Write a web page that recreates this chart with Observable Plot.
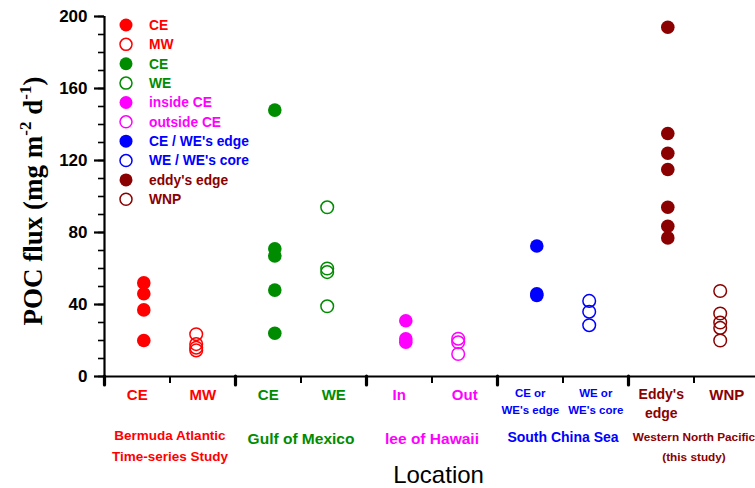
<!DOCTYPE html>
<html>
<head>
<meta charset="utf-8">
<script src="https://cdn.jsdelivr.net/npm/d3@7"></script>
<script src="https://cdn.jsdelivr.net/npm/@observablehq/plot@0.6"></script>
<style>
  html, body { margin: 0; padding: 0; background: #fff; }
  #chart svg { display: block; }
</style>
</head>
<body>
<div id="chart"></div>
<script>
// ---- Data ----
const regions = ["Bermuda Atlantic\nTime-series Study", "Gulf of Mexico", "lee of Hawaii", "South China Sea", "Western North Pacific\n(this study)"];
const regionColors = ["#ff0000", "#008c00", "#ff00ff", "#0000ff", "#8b0000"];
const subLabels = ["CE", "MW", "CE", "WE", "In", "Out", "CE or\nWE's edge", "WE or\nWE's core", "Eddy's\nedge", "WNP"];
const legendLabels = ["CE", "MW", "CE", "WE", "inside CE", "outside CE", "CE / WE's edge", "WE / WE's core", "eddy's edge", "WNP"];

const batsCE = [52, 46, 37, 20];
const batsMW = [23.5, 18, 16, 14.5];
const gomCE = [148, 71, 67, 48, 24];
const gomWE = [94, 60, 58, 39];
const hawaiiIn = [31, 21, 19];
const hawaiiOut = [21, 19, 12.5];
const scsEdge = [72.5, 46, 45];
const scsCore = [42, 36, 28.5];
const wnpEdge = [194, 135, 124, 115, 94, 83.5, 77];
const wnpOut = [47.5, 35, 30, 27, 20];

const series = [batsCE, batsMW, gomCE, gomWE, hawaiiIn, hawaiiOut, scsEdge, scsCore, wnpEdge, wnpOut];

// build table: series i -> group floor(i/2), filled when i even
const points = series.flatMap((vals, i) => vals.map(v => ({
  s: i, group: Math.floor(i / 2), filled: i % 2 === 0,
  pos: Math.floor(i / 2) * 2 + (i % 2 === 0 ? 0.6 : 1.4),
  value: v, color: regionColors[Math.floor(i / 2)]
})));

const subTable = subLabels.map((t, i) => ({
  text: t, pos: i + 0.5, color: regionColors[Math.floor(i / 2)], two: t.includes("\n"), small: i === 6 || i === 7
}));
const regionTable = regions.map((t, g) => ({text: t, pos: g * 2 + 1, color: regionColors[g], g}));
const regionFont = [13.5, 15.5, 15.5, 14, 11.8];

const FONT = "'Liberation Sans', Arial, Helvetica, sans-serif";

const chart = Plot.plot({
  width: 755,
  height: 488,
  marginLeft: 104,
  marginRight: 0,
  marginTop: 16,
  marginBottom: 112,
  style: {fontFamily: FONT, background: "#fff", overflow: "hidden"},
  x: {domain: [0, 10], range: [104, 759]},
  y: {domain: [0, 200], range: [376, 16]},
  marks: [
    // y axis: minor then major ticks
    Plot.axisY({ticks: d3.range(0, 201, 10), tickSize: 6, strokeWidth: 1.6, tickFormat: () => "", label: null}),
    Plot.axisY({ticks: d3.range(0, 201, 40), tickSize: 10, tickPadding: 7, strokeWidth: 2.2, fontSize: 17, fontWeight: "bold", fill: "#000", label: null}),
    // x axis ticks
    Plot.axisX({ticks: [1, 3, 5, 7, 9], tickSize: 7, strokeWidth: 2, tickFormat: () => "", label: null}),
    Plot.axisX({ticks: [0, 2, 4, 6, 8, 10], tickSize: 9, strokeWidth: 3.2, strokeLinecap: "round", tickFormat: () => "", label: null}),
    Plot.ruleX([0], {strokeWidth: 2.2}),
    Plot.ruleY([0], {strokeWidth: 2.2}),
    // data points
    Plot.dot(points.filter(d => d.filled), {x: "pos", y: "value", r: 6.8, fill: "color", stroke: "none"}),
    Plot.dot(points.filter(d => !d.filled), {x: "pos", y: "value", r: 6.3, fill: "none", stroke: "color", strokeWidth: 1.5}),
    // sub-category labels
    Plot.text(subTable.filter(d => !d.two), {x: "pos", y: () => 0, text: "text", fill: "color", fontSize: 15, fontWeight: "bold", dy: 19}),
    Plot.text(subTable.filter(d => d.small), {x: "pos", y: () => 0, text: "text", fill: "color", fontSize: 11.5, fontWeight: "bold", lineAnchor: "top", lineHeight: 1.45, dy: 9}),
    Plot.text(subTable.filter(d => d.two && !d.small), {x: "pos", y: () => 0, text: "text", fill: "color", fontSize: 14, fontWeight: "bold", lineAnchor: "top", lineHeight: 1.3, dy: 10}),
    // region labels
    ...regionTable.map(d => Plot.text([d], {x: "pos", y: () => 0, text: "text", fill: "color", fontSize: regionFont[d.g], fontWeight: "bold", lineAnchor: "top", lineHeight: d.g === 0 ? 1.55 : 1.65, dy: d.g === 4 ? 51 : 49})),
    // axis title
    Plot.text(["Location"], {x: () => 5.1, y: () => 0, text: d => d, fontSize: 24, fill: "#000", dy: 99})
  ]
});

document.getElementById("chart").appendChild(chart);

const svg = d3.select(chart);

// y-axis title with superscripts
const yt = svg.append("text")
  .attr("transform", "translate(42,201) rotate(-90)")
  .attr("text-anchor", "middle")
  .attr("font-family", "'Liberation Serif', 'Times New Roman', serif")
  .attr("font-weight", "bold")
  .attr("font-size", 27)
  .attr("fill", "#000");
yt.append("tspan").text("POC flux (mg m");
yt.append("tspan").attr("font-size", 17).attr("dy", -11).text("-2");
yt.append("tspan").attr("dy", 11).text(" d");
yt.append("tspan").attr("font-size", 17).attr("dy", -11).text("-1");
yt.append("tspan").attr("dy", 11).text(")");

// legend
const lg = svg.append("g").attr("font-family", FONT).attr("font-weight", "bold").attr("font-size", 13.8).attr("text-anchor", "start");
legendLabels.forEach((t, i) => {
  const c = regionColors[Math.floor(i / 2)];
  const filled = i % 2 === 0;
  const cy = 25 + i * 19.37;
  lg.append("circle").attr("cx", 126).attr("cy", cy).attr("r", filled ? 6.5 : 6)
    .attr("fill", filled ? c : "none").attr("stroke", filled ? "none" : c).attr("stroke-width", 1.5);
  lg.append("text").attr("x", 149).attr("y", cy).attr("dy", "0.35em").attr("text-anchor", "start").attr("fill", c).text(t);
});
</script>
</body>
</html>
